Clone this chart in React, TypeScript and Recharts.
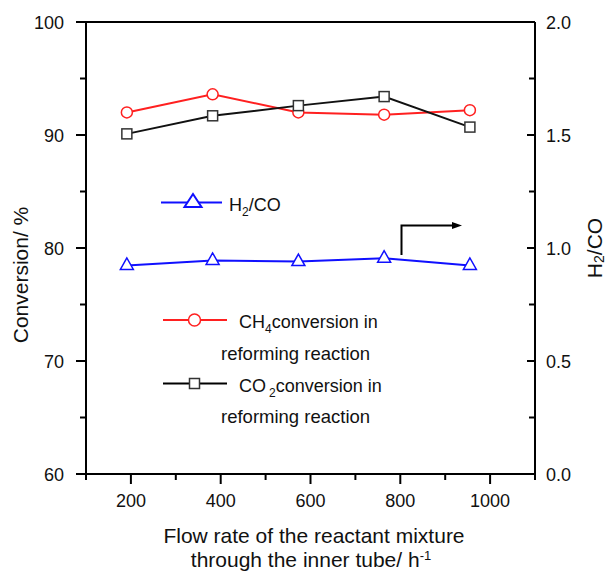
import { LineChart, Line, XAxis, YAxis, ReferenceLine } from "recharts";

const flow = [191, 382, 573, 764, 955];
const ch4Conv = [92.0, 93.6, 92.0, 91.8, 92.2];
const co2Conv = [90.1, 91.7, 92.6, 93.4, 90.7];
const h2co = [0.923, 0.945, 0.94, 0.955, 0.923];

const xTicks = [100, 200, 300, 400, 500, 600, 700, 800, 900, 1000, 1100];
const leftTicks = [60, 65, 70, 75, 80, 85, 90, 95, 100];
const rightTicks = [0, 0.25, 0.5, 0.75, 1, 1.25, 1.5, 1.75, 2];

const data = flow.map((f, i) => ({ flow: f, ch4: ch4Conv[i], co2: co2Conv[i], h2co: h2co[i] }));

const FONT = '"Liberation Sans", Arial, Helvetica, sans-serif';

function BottomTick(props: any) {
  const { x, y, payload } = props;
  const major = payload.value % 200 === 0;
  return (
    <g>
      <line x1={x} y1={y} x2={x} y2={y + (major ? 10 : 6)} stroke="#000" strokeWidth={2} />
      {major && (
        <text x={x} y={y + 33} textAnchor="middle" fontSize={18} fontFamily={FONT} fill="#111">
          {payload.value}
        </text>
      )}
    </g>
  );
}

function LeftTick(props: any) {
  const { x, y, payload } = props;
  const major = payload.value % 10 === 0;
  return (
    <g>
      <line x1={x} y1={y} x2={x - (major ? 10 : 6)} y2={y} stroke="#000" strokeWidth={2} />
      {major && (
        <text x={x - 22} y={y + 6.5} textAnchor="end" fontSize={18} fontFamily={FONT} fill="#111">
          {payload.value}
        </text>
      )}
    </g>
  );
}

function RightTick(props: any) {
  const { x, y, payload } = props;
  const v = payload.value;
  const major = Math.abs(v * 2 - Math.round(v * 2)) < 1e-6;
  return (
    <g>
      <line x1={x} y1={y} x2={x - (major ? 8 : 6)} y2={y} stroke="#000" strokeWidth={2} />
      {major && (
        <text x={x + 11} y={y + 6.5} textAnchor="start" fontSize={18} fontFamily={FONT} fill="#111">
          {v.toFixed(1)}
        </text>
      )}
    </g>
  );
}

const circleDot = (p: any) => (
  <circle key={`c${p.index}`} cx={p.cx} cy={p.cy} r={5.5} fill="#fff" stroke="#ff2020" strokeWidth={1.5} />
);

const squareDot = (p: any) => (
  <rect key={`s${p.index}`} x={p.cx - 5} y={p.cy - 5} width={10} height={10} fill="#fff" stroke="#333" strokeWidth={1.5} />
);

const triDot = (p: any) => (
  <polygon
    key={`t${p.index}`}
    points={`${p.cx},${p.cy - 7.5} ${p.cx - 6.5},${p.cy + 4} ${p.cx + 6.5},${p.cy + 4}`}
    fill="#fff"
    stroke="#1010ff"
    strokeWidth={1.5}
  />
);

function Overlay() {
  return (
    <svg
      width={608}
      height={572}
      style={{ position: "absolute", left: 0, top: 0, pointerEvents: "none" }}
      fontFamily={FONT}
      fill="#111"
    >
      {/* legend */}
      <line x1={161} y1={202.5} x2={222} y2={202.5} stroke="#1010ff" strokeWidth={2} />
      <polygon points="193,194 184.5,207 201.5,207" fill="#fff" stroke="#1010ff" strokeWidth={2} />
      <text x={229} y={211} fontSize={18}>
        H<tspan fontSize={12} dy={5}>2</tspan>
        <tspan dy={-5}>/CO</tspan>
      </text>

      <line x1={163} y1={320} x2={227} y2={320} stroke="#ff2020" strokeWidth={2} />
      <circle cx={194.5} cy={320} r={6} fill="#fff" stroke="#ff2020" strokeWidth={1.5} />
      <text x={239} y={328} fontSize={18}>
        CH<tspan fontSize={12} dy={5}>4</tspan>
        <tspan dy={-5}>conversion in</tspan>
      </text>
      <text x={221} y={360} fontSize={18.5}>reforming reaction</text>

      <line x1={163} y1={383.5} x2={227} y2={383.5} stroke="#000" strokeWidth={2} />
      <rect x={189.5} y={378.5} width={10} height={10} fill="#fff" stroke="#333" strokeWidth={1.5} />
      <text x={239} y={391.5} fontSize={18}>
        CO<tspan fontSize={12} dx={3} dy={5}>2</tspan>
        <tspan dy={-5}>conversion in</tspan>
      </text>
      <text x={221} y={423} fontSize={18.5}>reforming reaction</text>

      {/* arrow pointing to the right axis */}
      <polyline points="401.5,255 401.5,225.5 455,225.5" fill="none" stroke="#000" strokeWidth={2} />
      <polygon points="462,225.5 452,222 452,229" fill="#000" />

      {/* axis titles */}
      <text x={20} y={275} fontSize={21} textAnchor="middle" dominantBaseline="central" transform="rotate(-90 20 275)">
        Conversion/ %
      </text>
      <text x={594} y={248} fontSize={21} textAnchor="middle" dominantBaseline="central" transform="rotate(-90 594 248)">
        H<tspan fontSize={14} dy={5}>2</tspan>
        <tspan dy={-5}>/CO</tspan>
      </text>
      <text x={314} y={543} fontSize={21} textAnchor="middle">
        Flow rate of the reactant mixture
      </text>
      <text x={311} y={567} fontSize={21} textAnchor="middle">
        through the inner tube/ h<tspan fontSize={13} dy={-7}>-1</tspan>
      </text>
    </svg>
  );
}

export default function App() {
  return (
    <div style={{ position: "absolute", left: 0, top: 0, width: 608, height: 572, background: "#fff" }}>
      <LineChart width={608} height={572} data={data} margin={{ top: 22, right: 0, bottom: 0, left: 0 }}>
        <XAxis
          dataKey="flow"
          type="number"
          domain={[100, 1100]}
          ticks={xTicks}
          interval={0}
          height={98}
          tickSize={0}
          tickMargin={0}
          tickLine={false}
          axisLine={{ stroke: "#000", strokeWidth: 2 }}
          tick={<BottomTick />}
        />
        <YAxis
          yAxisId="left"
          type="number"
          domain={[60, 100]}
          ticks={leftTicks}
          interval={0}
          width={86}
          tickSize={0}
          tickMargin={0}
          tickLine={false}
          axisLine={{ stroke: "#000", strokeWidth: 2 }}
          tick={<LeftTick />}
        />
        <YAxis
          yAxisId="right"
          orientation="right"
          type="number"
          domain={[0, 2]}
          ticks={rightTicks}
          interval={0}
          width={73}
          tickSize={0}
          tickMargin={0}
          tickLine={false}
          axisLine={{ stroke: "#000", strokeWidth: 2 }}
          tick={<RightTick />}
        />
        <ReferenceLine yAxisId="left" y={100} stroke="#000" strokeWidth={2} />
        <Line
          yAxisId="right"
          dataKey="h2co"
          stroke="#1010ff"
          strokeWidth={2}
          dot={triDot}
          isAnimationActive={false}
        />
        <Line
          yAxisId="left"
          dataKey="ch4"
          stroke="#ff2020"
          strokeWidth={2}
          dot={circleDot}
          isAnimationActive={false}
        />
        <Line
          yAxisId="left"
          dataKey="co2"
          stroke="#111"
          strokeWidth={2}
          dot={squareDot}
          isAnimationActive={false}
        />
      </LineChart>
      <Overlay />
    </div>
  );
}
